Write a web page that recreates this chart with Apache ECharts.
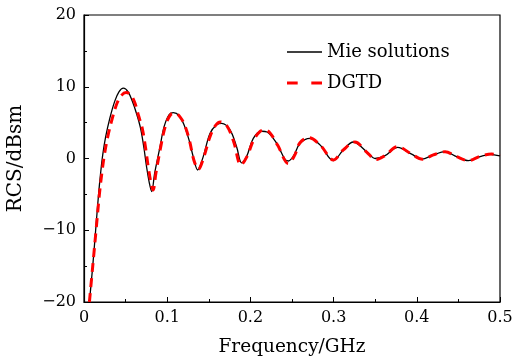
<!DOCTYPE html>
<html>
<head>
<meta charset="utf-8">
<script src="https://cdn.jsdelivr.net/npm/echarts@6/dist/echarts.min.js"></script>
<style>
html,body{margin:0;padding:0;background:#fff;}
#c{width:513px;height:361px;}
</style>
</head>
<body>
<div id="c"></div>
<script>
var xTicks = [0, 0.1, 0.2, 0.3, 0.4, 0.5];
var yTicks = [-20, -10, 0, 10, 20];
var seriesNames = ['Mie solutions', 'DGTD'];
var mie = [
[0.0065,-20],[0.0105,-15],[0.0140,-10],[0.0175,-5],[0.0200,-2.0],[0.0225,0.5],[0.0260,3.0],[0.0310,5.6],[0.0370,8.0],[0.0420,9.3],[0.0473,9.8],[0.0530,9.3],[0.0580,8.0],[0.0633,6.2],[0.0680,4.2],[0.0720,1.5],[0.0750,-1.0],[0.0785,-3.4],[0.0813,-4.6],[0.0850,-2.0],[0.0913,1.6],[0.0962,4.4],[0.1022,6.1],[0.1074,6.4],[0.1142,6.0],[0.1202,4.7],[0.1262,2.6],[0.1314,0.2],[0.1366,-1.6],[0.1434,0.3],[0.1514,3.5],[0.1595,4.7],[0.1655,4.9],[0.1755,4.0],[0.1835,1.6],[0.1895,-0.6],[0.1955,0.3],[0.2035,2.8],[0.2136,3.8],[0.2200,3.7],[0.2316,2.1],[0.2410,0.0],[0.2456,-0.35],[0.2520,0.4],[0.2596,2.1],[0.2716,2.8],[0.2837,1.9],[0.2997,-0.3],[0.3117,1.2],[0.3237,2.3],[0.3397,0.95],[0.3500,0.0],[0.3618,0.4],[0.3770,1.55],[0.3938,0.6],[0.4058,-0.1],[0.4199,0.5],[0.4339,0.95],[0.4479,0.25],[0.4619,-0.3],[0.4760,0.25],[0.4880,0.58],[0.5000,0.35]
];
var dgtd = [
[0.0065,-20],[0.0105,-15],[0.0145,-10],[0.0185,-5],[0.0215,-2.0],[0.0245,0.5],[0.0285,3.0],[0.0340,5.6],[0.0400,7.8],[0.0450,8.8],[0.0505,9.2],[0.0560,8.9],[0.0610,7.8],[0.0655,6.0],[0.0700,4.2],[0.0740,1.5],[0.0770,-1.0],[0.0805,-3.4],[0.0830,-4.4],[0.0865,-2.0],[0.0925,1.8],[0.0980,4.6],[0.1040,6.1],[0.1095,6.3],[0.1160,5.7],[0.1215,4.5],[0.1270,2.4],[0.1320,-0.2],[0.1374,-1.5],[0.1440,0.2],[0.1510,2.9],[0.1580,4.6],[0.1640,5.1],[0.1720,4.5],[0.1800,2.3],[0.1887,-0.9],[0.1960,0.3],[0.2040,2.6],[0.2120,3.8],[0.2175,4.0],[0.2240,3.5],[0.2330,1.8],[0.2456,-0.7],[0.2530,0.4],[0.2596,2.2],[0.2700,2.9],[0.2837,1.9],[0.3000,-0.2],[0.3117,1.2],[0.3257,2.3],[0.3397,0.9],[0.3510,-0.15],[0.3618,0.4],[0.3770,1.65],[0.3938,0.6],[0.4070,-0.1],[0.4199,0.5],[0.4339,0.95],[0.4479,0.25],[0.4619,-0.3],[0.4760,0.3],[0.4900,0.62],[0.5000,0.4]
];

var FONT = 'DejaVu Serif';
var chart = echarts.init(document.getElementById('c'), null, {renderer: 'canvas'});
chart.setOption({
  animation: false,
  backgroundColor: '#fff',
  grid: {left: 84, right: 13, top: 15, bottom: 59, containLabel: false, outerBoundsMode: 'none',
    show: true, borderColor: '#000', borderWidth: 1.2, backgroundColor: 'transparent'},
  legend: {
    top: 38, left: 282, orient: 'vertical', itemWidth: 35, itemHeight: 14, itemGap: 13,
    textStyle: {fontFamily: FONT, fontSize: 18, color: '#000'},
    data: [
      {name: seriesNames[0], icon: 'path://M0,0h36v1.4h-36z'},
      {name: seriesNames[1], icon: 'path://M0,0h11v3h-11zM25,0h11v3h-11z'}
    ]
  },
  xAxis: {
    type: 'value', min: xTicks[0], max: xTicks[xTicks.length-1], interval: 0.1,
    name: 'Frequency/GHz', nameLocation: 'middle', nameGap: 36,
    nameTextStyle: {fontFamily: FONT, fontSize: 18.5, color: '#000'},
    axisLine: {onZero: false, lineStyle: {color: '#000', width: 1.2}},
    axisTick: {inside: true, length: 5, lineStyle: {color: '#000'}},
    minorTick: {show: true, splitNumber: 2, length: 3, lineStyle: {color: '#000'}},
    splitLine: {show: false},
    axisLabel: {fontFamily: FONT, fontSize: 16, color: '#000', margin: 8}
  },
  yAxis: {
    type: 'value', min: yTicks[0], max: yTicks[yTicks.length-1], interval: 10,
    name: 'RCS/dBsm', nameLocation: 'middle', nameGap: 58,
    nameTextStyle: {fontFamily: FONT, fontSize: 20, color: '#000'},
    axisLine: {onZero: false, lineStyle: {color: '#000', width: 1.2}},
    axisTick: {inside: true, length: 5, lineStyle: {color: '#000'}},
    minorTick: {show: true, splitNumber: 2, length: 3, lineStyle: {color: '#000'}},
    splitLine: {show: false},
    axisLabel: {fontFamily: FONT, fontSize: 16, color: '#000', margin: 8,
      formatter: function(v){ return String(v).replace('-', '\u2212'); }}
  },
  series: [
    {name: seriesNames[0], type: 'line', data: mie, smooth: 0.35, symbol: 'none',
     lineStyle: {color: '#000', width: 1.3}, itemStyle: {color: '#000'}, z: 2},
    {name: seriesNames[1], type: 'line', data: dgtd, smooth: 0.35, symbol: 'none',
     lineStyle: {color: '#ff0000', width: 3, type: [9, 6]}, itemStyle: {color: '#ff0000'}, z: 3}
  ]
});
</script>
</body>
</html>
